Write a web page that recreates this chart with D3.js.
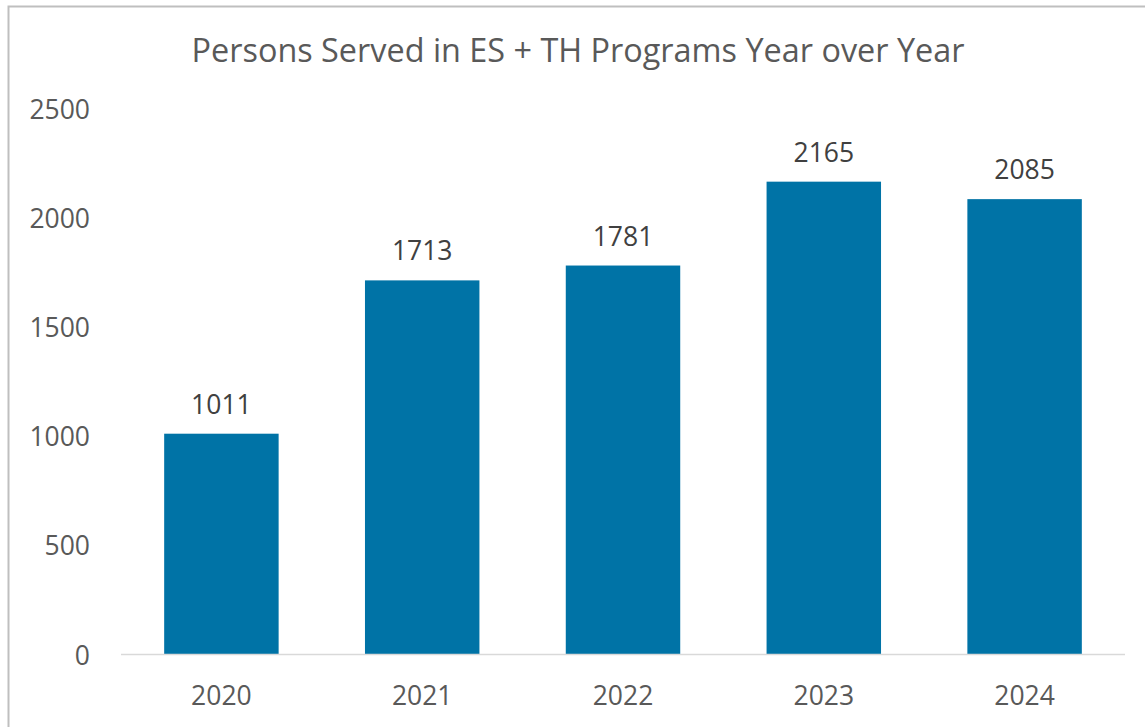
<!DOCTYPE html>
<meta charset="utf-8">
<style>
body { margin: 0; background: #fff; }
text { font-family: "Open Sans", sans-serif; }
.tick text { fill: #595959; font-size: 26.5px; }
.label { fill: #404040; font-size: 26.5px; }
.title { fill: #595959; font-size: 32.4px; }
</style>
<svg width="1145" height="727"></svg>
<script src="https://d3js.org/d3.v7.min.js"></script>
<script>

var years = ["2020", "2021", "2022", "2023", "2024"];
var persons = [1011, 1713, 1781, 2165, 2085];
var yTicks = [0, 500, 1000, 1500, 2000, 2500];

var svg = d3.select("svg"),
    width = +svg.attr("width"),
    height = +svg.attr("height");

var margin = {top: 108.5, right: 20, bottom: 72.5, left: 121};

// chart frame (runs off the right and bottom of the picture)
svg.append("rect")
    .attr("x", 8.5).attr("y", 6.5)
    .attr("width", 1200).attr("height", 800)
    .attr("fill", "none")
    .attr("stroke", "#bfbfbf")
    .attr("stroke-width", 2);

var x = d3.scaleBand()
    .domain(years)
    .range([margin.left, width - margin.right])
    .paddingInner(0.43)
    .paddingOuter(0.215);

var y = d3.scaleLinear()
    .domain([0, 2500])
    .range([height - margin.bottom, margin.top]);

svg.append("text")
    .attr("class", "title")
    .attr("x", 578)
    .attr("y", 62)
    .attr("text-anchor", "middle")
    .text("Persons Served in ES + TH Programs Year over Year");

var yAxis = svg.append("g")
    .attr("transform", "translate(90,0)")
    .call(d3.axisLeft(y).tickValues(yTicks).tickFormat(d3.format("d")).tickSize(0).tickPadding(0));
yAxis.select(".domain").remove();
yAxis.selectAll("text").attr("dy", "0.36em");

svg.append("g")
    .selectAll("rect")
    .data(persons)
    .enter().append("rect")
      .attr("x", function(d, i) { return x(years[i]); })
      .attr("y", function(d) { return y(d); })
      .attr("width", x.bandwidth())
      .attr("height", function(d) { return y(0) - y(d); })
      .attr("fill", "#0073a6");

var xAxis = svg.append("g")
    .attr("transform", "translate(0," + y(0) + ")")
    .call(d3.axisBottom(x).tickSize(0).tickPadding(0));
xAxis.select(".domain")
    .attr("stroke", "#d9d9d9")
    .attr("stroke-width", 1.5)
    .attr("d", "M" + (margin.left) + ",0H" + (width - margin.right));
xAxis.selectAll("text").attr("y", 50).attr("dy", 0);

svg.append("g")
    .selectAll("text")
    .data(persons)
    .enter().append("text")
      .attr("class", "label")
      .attr("x", function(d, i) { return x(years[i]) + x.bandwidth() / 2; })
      .attr("y", function(d) { return y(d) - 20; })
      .attr("text-anchor", "middle")
      .text(function(d) { return d; });

</script>
